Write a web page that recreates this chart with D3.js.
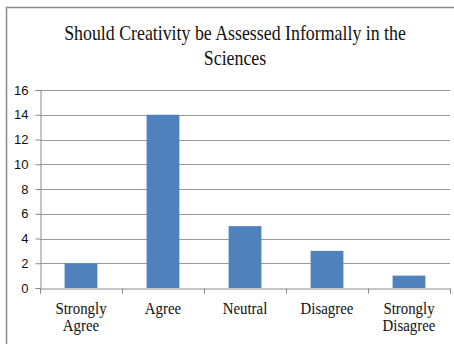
<!DOCTYPE html>
<html>
<head>
<meta charset="utf-8">
<script src="https://cdn.jsdelivr.net/npm/d3@7"></script>
<style>
  html, body { margin: 0; padding: 0; background: #fff; }
  svg { display: block; }
</style>
</head>
<body>
<svg id="chart" width="454" height="344"></svg>
<script>
// Survey responses
const categories = ["Strongly Agree", "Agree", "Neutral", "Disagree", "Strongly Disagree"];
const counts = [2, 14, 5, 3, 1];
const yTicks = [0, 2, 4, 6, 8, 10, 12, 14, 16];
const titleLines = ["Should Creativity be Assessed Informally in the", "Sciences"];

const svg = d3.select("#chart");
const plot = { left: 40, right: 450, top: 90, bottom: 288 };

// Outer frame
svg.append("rect")
  .attr("x", 6.5).attr("y", 7.5)
  .attr("width", 460).attr("height", 360)
  .attr("fill", "#fff")
  .attr("stroke", "#8a8a8a").attr("stroke-width", 1.5);

const x = d3.scaleBand()
  .domain(categories)
  .range([plot.left, plot.right])
  .paddingInner(0.6)
  .paddingOuter(0.3);

const xEdges = d3.scaleLinear()
  .domain([0, categories.length])
  .range([plot.left, plot.right]);

const y = d3.scaleLinear()
  .domain([0, 16])
  .range([plot.bottom, plot.top]);

// Horizontal gridlines
svg.append("g")
  .selectAll("line")
  .data(yTicks.filter(d => d > 0))
  .join("line")
  .attr("x1", plot.left).attr("x2", plot.right)
  .attr("y1", d => Math.round(y(d)) + 0.5).attr("y2", d => Math.round(y(d)) + 0.5)
  .attr("stroke", "#9a9a9a").attr("stroke-width", 1);

// Bars
svg.append("g")
  .selectAll("rect")
  .data(categories)
  .join("rect")
  .attr("x", d => x(d))
  .attr("width", x.bandwidth())
  .attr("y", (d, i) => y(counts[i]))
  .attr("height", (d, i) => y(0) - y(counts[i]))
  .attr("fill", "#4f81bd");

// Y axis
const yAxis = svg.append("g")
  .attr("transform", `translate(${plot.left + 0.5},0)`)
  .call(d3.axisLeft(y).tickValues(yTicks).tickSize(5).tickPadding(7));
yAxis.select(".domain").attr("stroke", "#8a8a8a");
yAxis.selectAll(".tick line").attr("stroke", "#8a8a8a");
yAxis.selectAll(".tick text")
  .attr("fill", "#111")
  .style("font-family", "'Liberation Sans', Arial, sans-serif")
  .style("font-size", "13px");

// X axis baseline with boundary ticks
const xAxis = svg.append("g")
  .attr("transform", `translate(0,${plot.bottom + 0.5})`)
  .call(d3.axisBottom(xEdges).tickValues(d3.range(categories.length + 1)).tickSize(5).tickFormat(""));
xAxis.select(".domain").attr("stroke", "#8a8a8a");
xAxis.selectAll(".tick line").attr("stroke", "#8a8a8a");

// Category labels (two lines where needed)
const labels = svg.append("g")
  .selectAll("g")
  .data(categories)
  .join("g")
  .attr("transform", d => `translate(${x(d) + x.bandwidth() / 2},314) scale(0.85,1)`);
labels.each(function(d) {
  const words = d.split(" ");
  d3.select(this).selectAll("text")
    .data(words)
    .join("text")
    .attr("x", 0)
    .attr("y", (w, i) => i * 17.5)
    .attr("text-anchor", "middle")
    .attr("fill", "#111")
    .style("font-family", "'Liberation Serif', 'Times New Roman', serif")
    .style("font-size", "17.5px")
    .text(w => w);
});

// Title
const title = svg.append("g")
  .attr("transform", "translate(235,40) scale(0.85,1)");
title.selectAll("text")
  .data(titleLines)
  .join("text")
  .attr("x", 0)
  .attr("y", (d, i) => i * 25)
  .attr("text-anchor", "middle")
  .attr("fill", "#111")
  .style("font-family", "'Liberation Serif', 'Times New Roman', serif")
  .style("font-size", "21px")
  .text(d => d);
</script>
</body>
</html>
